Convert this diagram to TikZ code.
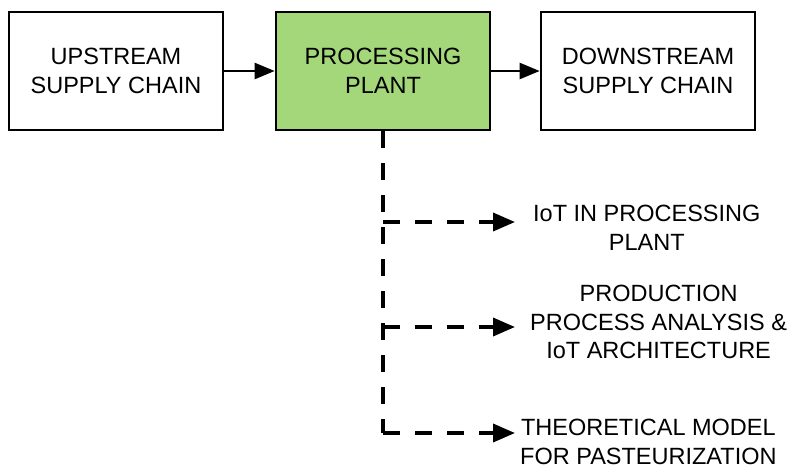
\documentclass[tikz,border=0pt]{standalone}
\usepackage{fontspec}
\setmainfont{Liberation Sans}
\usetikzlibrary{arrows.meta}
\definecolor{plantgreen}{RGB}{163,215,122}
\begin{document}
\begin{tikzpicture}[x=1pt,y=-1pt,
  stagebox/.style={draw=black,line width=2.7pt,minimum width=214pt,minimum height=118pt,
    align=center,inner sep=0pt,font=\fontsize{23.5}{29}\selectfont},
  label/.style={align=center,anchor=west,inner ysep=0pt,font=\fontsize{23.5}{28.5}\selectfont},
  flow/.style={line width=2.4pt,-{Triangle[length=20pt,width=16pt]}},
  branch/.style={line width=3.6pt,dash pattern=on 17pt off 15pt},
  brancharrow/.style={branch,-{Triangle[length=22pt,width=18pt]}}]
\useasboundingbox (0,0) rectangle (791,469);
% top row of supply chain stages
\node[stagebox] (up) at (116,71) {UPSTREAM\\SUPPLY CHAIN};
\node[stagebox,fill=plantgreen] (pp) at (383,71) {PROCESSING\\PLANT};
\node[stagebox] (down) at (648,71) {DOWNSTREAM\\SUPPLY CHAIN};
\draw[flow] (up.east) -- (pp.west);
\draw[flow] (pp.east) -- (down.west);
% topics studied inside the plant
\node[label,inner xsep=18pt] (t1) at (515,228) {IoT IN PROCESSING\\PLANT};
\node[label,inner xsep=15pt] (t2) at (515,322) {PRODUCTION\\PROCESS ANALYSIS \&\\IoT ARCHITECTURE};
\node[label,inner xsep=5pt] (t3) at (515,442) {THEORETICAL MODEL\\FOR PASTEURIZATION};
\coordinate (j1) at (383,222);
\coordinate (j2) at (383,327);
\coordinate (j3) at (383,433);
\draw[branch] (pp.south) -- (j3);
\draw[brancharrow] (j1) -- (t1.west |- j1);
\draw[brancharrow] (j2) -- (t2.west |- j2);
\draw[brancharrow] (j3) -- (t3.west |- j3);
\end{tikzpicture}
\end{document}
